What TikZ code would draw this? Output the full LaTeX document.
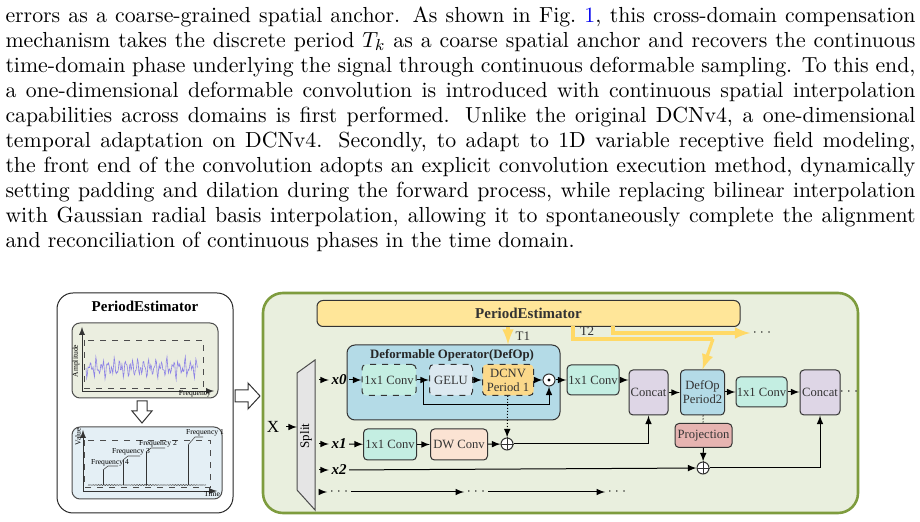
\documentclass[tikz,border=0pt]{standalone}
\usepackage{fontspec}
\usepackage{xcolor}
\usepackage{tikz}
\usetikzlibrary{shapes.geometric}
\usetikzlibrary{positioning}
\usetikzlibrary{arrows}
\newfontfamily\figfont{Liberation Serif}
\definecolor{outerfill}{HTML}{E9EFDE}
\definecolor{outerline}{HTML}{7E9C3E}
\definecolor{peyellow}{HTML}{FFE699}
\definecolor{arrowyellow}{HTML}{FFD966}
\definecolor{defopfill}{HTML}{B4DBE7}
\definecolor{tealfill}{HTML}{C4EEE2}
\definecolor{gelufill}{HTML}{DCE9F0}
\definecolor{dcnvfill}{HTML}{FBD98A}
\definecolor{catfill}{HTML}{DED6E6}
\definecolor{projfill}{HTML}{E6B4B1}
\definecolor{dwfill}{HTML}{FBE3D3}
\definecolor{panelA}{HTML}{EBEEE0}
\definecolor{panelB}{HTML}{E4EFF5}
\definecolor{sigcol}{HTML}{8C82E6}
\definecolor{linkblue}{HTML}{0000EE}
\begin{document}
\begin{tikzpicture}[x=0.5pt,y=-0.5pt,>=latex,line width=0.5pt,
  blk/.style={draw=black!80,rounded corners=2pt,inner sep=0pt,align=center,
    font=\figfont\fontsize{6.3}{6.9}\selectfont,text=black!80},
  dblk/.style={blk,dashed},
  circ/.style={circle,draw=black!80,fill=white,minimum size=6pt,inner sep=0pt},
  lab/.style={font=\figfont\fontsize{6.5}{7.5}\selectfont,inner sep=1pt},
  tiny/.style={font=\figfont\fontsize{3.8}{4}\selectfont,inner sep=0.5pt},
  fat/.style={arrowyellow,line width=1.6pt},
  hollow/.style={draw=black!80,fill=white,line width=0.5pt}]
\useasboundingbox (0,0) rectangle (920,522);

% paragraph
\node[anchor=north west,inner sep=0pt,text width=455pt,align=justify,
  font=\fontsize{10.9}{12.5}\selectfont] (para) at (5,6) {%
errors as a coarse-grained spatial anchor. As shown in Fig.~\textcolor{linkblue}{1}, this cross-domain compensation\linebreak
mechanism takes the discrete period $T_k$ as a coarse spatial anchor and recovers the continuous\linebreak
time-domain phase underlying the signal through continuous deformable sampling. To this end,\linebreak
a one-dimensional deformable convolution is introduced with continuous spatial interpolation\linebreak
capabilities across domains is first performed. Unlike the original DCNv4, a one-dimensional\linebreak
temporal adaptation on DCNv4. Secondly, to adapt to 1D variable receptive field modeling,\linebreak
the front end of the convolution adopts an explicit convolution execution method, dynamically\linebreak
setting padding and dilation during the forward process, while replacing bilinear interpolation\linebreak
with Gaussian radial basis interpolation, allowing it to spontaneously complete the alignment\linebreak
and reconciliation of continuous phases in the time domain.};

% left panel: period estimator
\draw[black!85,rounded corners=8pt,fill=white] (57,293) rectangle (233,513);
\node[font=\figfont\bfseries\fontsize{7.5}{8}\selectfont] (petitle) at (145,306) {PeriodEstimator};
\draw[black!70,rounded corners=4pt,fill=panelA] (72,323) rectangle (218,398);
\draw[->,black!80,line width=0.4pt] (82,391) -- (82,327);
\draw[->,black!80,line width=0.4pt] (82,391) -- (214,391);
\draw[dashed,black!70,line width=0.4pt] (84,340) rectangle (203,388);
\draw[sigcol,line width=0.3pt] plot[domain=0:112,samples=160]
  ({86+\x},{368+5*sin(\x*61)+4*sin(\x*137)+3*sin(\x*97)});
\node[tiny,rotate=90] (amp) at (76,361) {Amplitude};
\node[tiny] (freq) at (195,394) {Frequency};
\draw[hollow] (137,401) -- (147,401) -- (147,411) -- (152,411) -- (142,423) -- (132,411) -- (137,411) -- cycle;
\draw[black!70,rounded corners=4pt,fill=panelB] (72,427) rectangle (222,499);
\draw[->,black!80,line width=0.4pt] (83,491) -- (83,430);
\draw[->,black!80,line width=0.4pt] (83,491) -- (217,491);
\draw[dashed,black!70,line width=0.4pt] (84,440) rectangle (210,487);
\draw[black!70,line width=0.3pt] plot[domain=0:118,samples=90] ({88+\x},{485+0.6*sin(\x*131)});
\draw[black!80,line width=0.4pt] (103,485) -- (103,470) (123,485) -- (123,460)
  (146,485) -- (146,452) (188,485) -- (188,445);
\draw[black!70,line width=0.3pt] (103,470) -- (108,466) -- (118,466)
  (123,460) -- (128,456) -- (140,456) (146,452) -- (151,448) -- (165,448)
  (188,445) -- (195,437) -- (203,437);
\node[tiny] (f4) at (110,463) {Frequency 4};
\node[tiny] (f3) at (131,452) {Frequency 3};
\node[tiny] (f2) at (158,444) {Frequency 2};
\node[tiny] (f1) at (205,433) {Frequency 1};
\node[tiny,rotate=90] (val) at (78,437) {Value};
\node[tiny] (tim) at (212,494) {Time};

% hollow arrow between panels
\draw[hollow] (235,390) -- (248,390) -- (248,383) -- (260,396) -- (248,409) -- (248,402) -- (235,402) -- cycle;

% main panel
\draw[outerline,line width=1.3pt,rounded corners=10pt,fill=outerfill] (263,293) rectangle (858,513);
\node[blk,fill=peyellow,minimum width=211.5pt,minimum height=13pt,rounded corners=3pt,
  font=\figfont\bfseries\fontsize{7.5}{8}\selectfont] (pe) at (528.5,313.5) {PeriodEstimator};
\node[blk,fill=defopfill,minimum width=106.5pt,minimum height=37.5pt,rounded corners=4pt] (defop) at (453.5,382.5) {};
\node[font=\figfont\bfseries\fontsize{6.4}{7}\selectfont,text=black!85] (dtitle) at (452,355) {Deformable Operator(DefOp)};

\node[dblk,fill=tealfill,minimum width=27pt,minimum height=15.5pt] (c0) at (389,380) {1x1 Conv};
\node[dblk,fill=gelufill,minimum width=21.5pt,minimum height=15.5pt] (gelu) at (451,380) {GELU};
\node[dblk,fill=dcnvfill,minimum width=25.5pt,minimum height=15.5pt] (dcnv) at (508,380) {DCNV\\Period 1};
\node[circ] (od) at (549,380) {};
\fill[black] (od) circle (0.8pt);
\node[blk,fill=tealfill,minimum width=26pt,minimum height=15pt] (c1) at (593,380) {1x1 Conv};
\node[blk,fill=catfill,minimum width=19.5pt,minimum height=22.5pt] (cat1) at (648.5,392.5) {Concat};
\node[blk,fill=defopfill,minimum width=22pt,minimum height=22.5pt] (dp2) at (702.5,392.5) {DefOp\\Period2};
\node[blk,fill=tealfill,minimum width=25.5pt,minimum height=15pt] (c3) at (761.5,392) {1x1 Conv};
\node[blk,fill=catfill,minimum width=20pt,minimum height=22.5pt] (cat2) at (820,392.5) {Concat};
\node[lab] (dots0) at (849,392) {$\cdots$};
\node[blk,fill=projfill,minimum width=28.5pt,minimum height=12pt] (proj) at (703.5,435.5) {Projection};
\node[circ] (op2) at (703,468) {};
\node[blk,fill=tealfill,minimum width=26.5pt,minimum height=15.5pt] (c2) at (390,444.5) {1x1 Conv};
\node[blk,fill=dwfill,minimum width=28.5pt,minimum height=15.5pt] (dw) at (459,444.5) {DW Conv};
\node[circ] (op1) at (507,444) {};
\foreach \n in {op1,op2} {
  \draw[black!80,line width=0.4pt] (\n.north) -- (\n.south) (\n.west) -- (\n.east);
}

% split
\draw[black!70,fill=white!90!black] (297,373) -- (315,360) -- (315,510) -- (297,490) -- cycle;
\node[lab,rotate=90] (split) at (306,436) {Split};
\node[font=\figfont\fontsize{8.5}{9}\selectfont] (X) at (273,427) {X};
\coordinate (sp) at (297,427);
\draw[->] (X) -- (sp);

% branch labels
\node[lab,font=\figfont\itshape\bfseries\fontsize{7.5}{8}\selectfont] (x0) at (339,380) {x0};
\node[lab,font=\figfont\itshape\bfseries\fontsize{7.5}{8}\selectfont] (x1) at (339,444) {x1};
\node[lab,font=\figfont\itshape\bfseries\fontsize{7.5}{8}\selectfont] (x2) at (339,470) {x2};
\node[lab] (xd) at (339,492) {$\cdots$};
\node[lab] (d1) at (476,492) {$\cdots$};
\node[lab] (d2) at (617,492) {$\cdots$};
\node[lab] (d3) at (762,333) {$\cdots$};
\coordinate (s0) at (319,380);
\coordinate (s1) at (319,444);
\coordinate (s2) at (319,470);
\coordinate (s3) at (319,492);
\draw[->] (s0) -- (x0);
\draw[->] (s1) -- (x1);
\draw[->] (s2) -- (x2);
\draw[->] (s3) -- (xd);
\draw[->] (xd) -- (d1);
\draw[->] (d1) -- (d2);

% arrows
\draw[->] (x0) -- (c0);
\draw[->] (c0) -- (gelu);
\draw[->] (gelu) -- (dcnv);
\draw[->] (dcnv) -- (od);
\draw[->] (od) -- (c1);
\draw[->] (c0.east) -- ++(7,0) |- (549,405) -- (od.south);
\draw[->] (c1.east) -- ++(4,0) |- (cat1.west |- c1);
\draw[->] (cat1) -- (dp2);
\draw[->] (dp2.east |- c3) -- (c3);
\draw[->] (c3) -- (cat2.west |- c3);
\draw[->] (x1) -- (c2);
\draw[->] (c2) -- (dw);
\draw[->] (dw) -- (op1);
\draw[->,densely dotted] (dcnv) -- (op1);
\draw[->] (op1) -| (cat1.south);
\draw[->] (x2) -- (op2);
\draw[->] (op2) -| (cat2.south);
\draw[densely dotted] (dp2) -- (proj);
\draw[->,densely dashed] (proj) -- (op2);

% period arrows
\draw[->,fat] (dcnv.north |- pe.south) -- node[right,lab,text=black!80,xshift=2pt] {T1} (dcnv.north |- defop.north);
\draw[fat] (573,326.5) |- (713,339);
\draw[->,fat] (713,339) -- (dp2.north);
\node[lab,text=black!80] (t2) at (587,331) {T2};
\draw[->,fat] (613,326.5) |- (d3.west);
\end{tikzpicture}
\end{document}
